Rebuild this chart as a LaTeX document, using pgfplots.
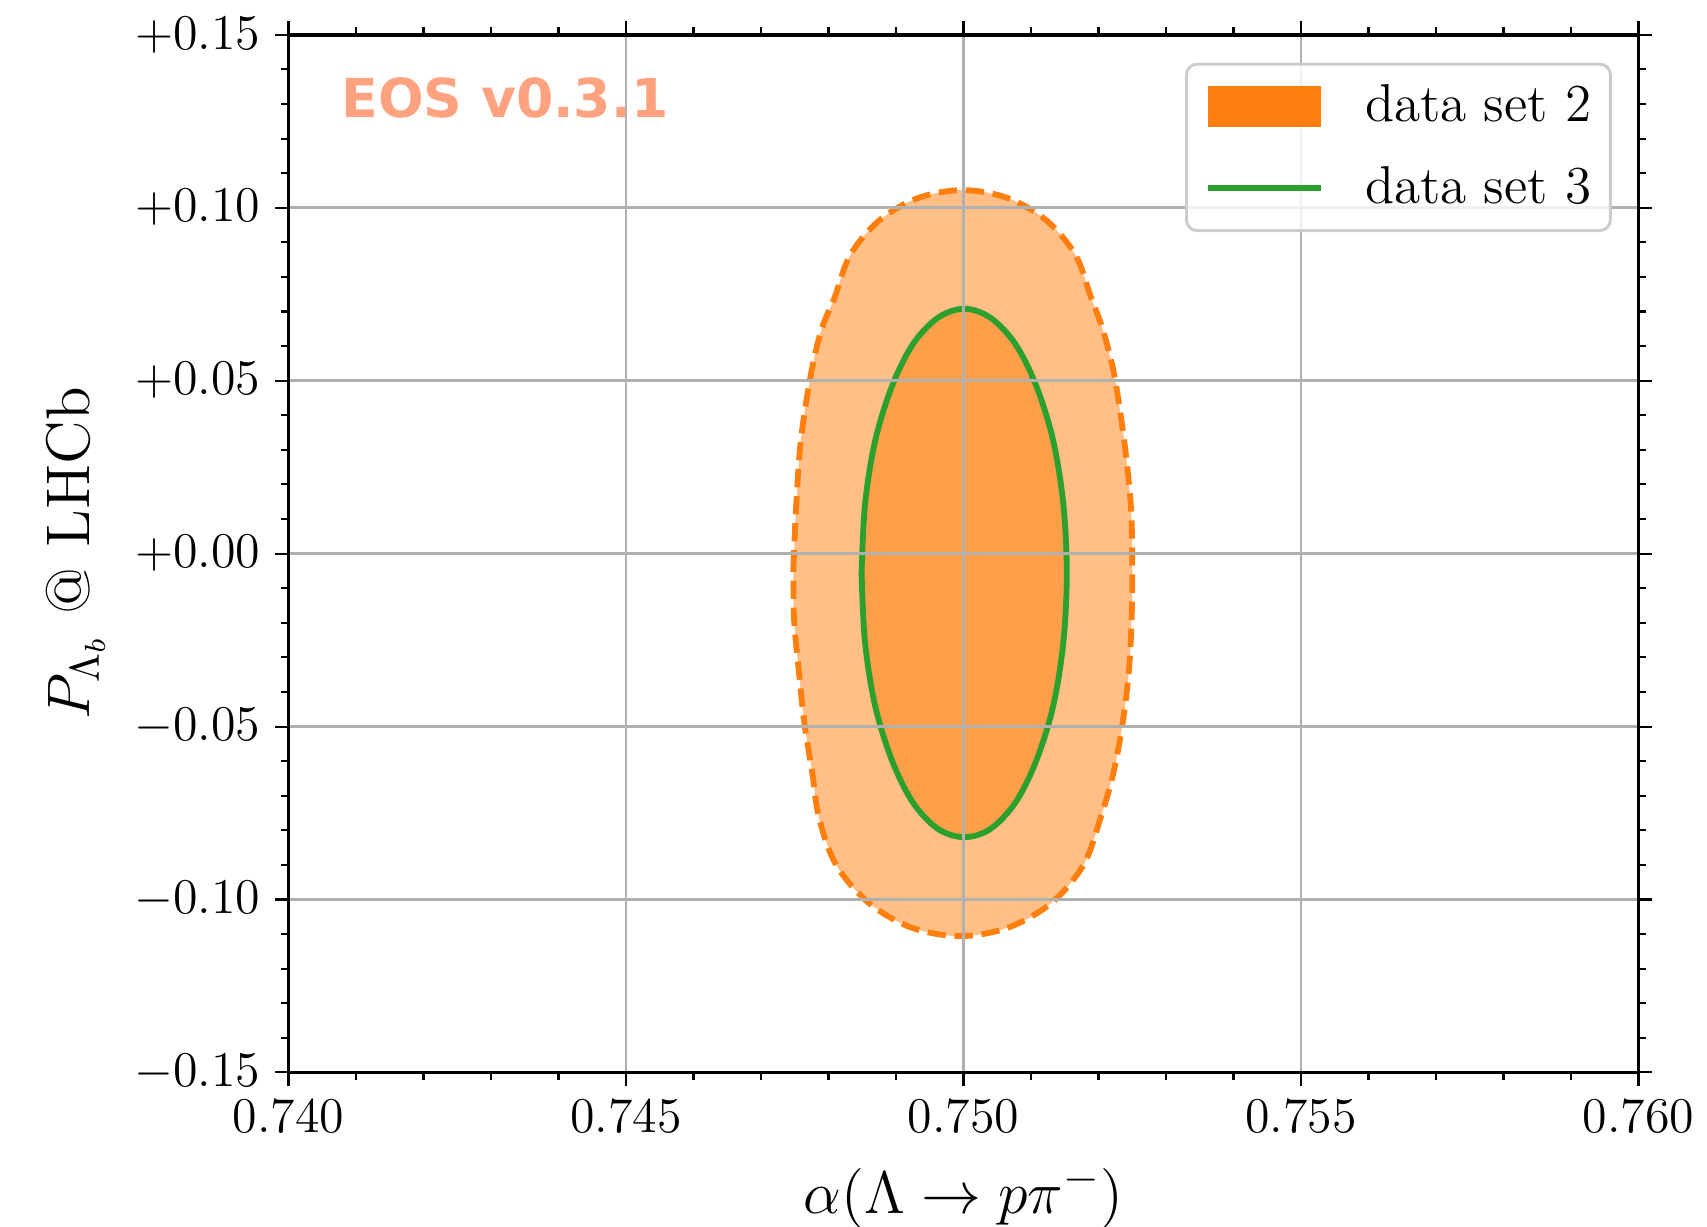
\documentclass[border=0pt]{standalone}
\usepackage{fontspec}
\usepackage{pgfplots}
\pgfplotsset{compat=1.18}
\usepackage{pgfplotstable}
\newfontfamily\dejavu{DejaVu Sans}
\definecolor{C1}{RGB}{255,127,14}
\definecolor{C2}{RGB}{44,160,44}
\definecolor{outerfill}{RGB}{255,191,134}
\definecolor{innerfill}{RGB}{255,159,74}
\definecolor{eos}{RGB}{255,162,128}
\definecolor{gridc}{RGB}{176,176,176}
\definecolor{legframe}{RGB}{204,204,204}

\pgfplotstableread{
x y
0.74748 -0.00429
0.74752 0.01346
0.74759 0.03269
0.74774 0.05192
0.74790 0.06500
0.74809 0.07399
0.74832 0.08627
0.74875 0.09631
0.74933 0.10284
0.74999 0.10510
0.75065 0.10284
0.75123 0.09631
0.75166 0.08627
0.75189 0.07399
0.75206 0.06500
0.75223 0.05192
0.75238 0.03269
0.75248 0.01346
0.75250 -0.00429
0.75249 -0.01908
0.75245 -0.03388
0.75236 -0.04867
0.75222 -0.06346
0.75203 -0.07641
0.75178 -0.08989
0.75131 -0.10088
0.75067 -0.10808
0.74995 -0.11060
0.74922 -0.10808
0.74859 -0.10088
0.74811 -0.08989
0.74786 -0.07641
0.74776 -0.06346
0.74764 -0.04867
0.74756 -0.03388
0.74749 -0.01908
0.74748 -0.00429
}\outercont

\pgfplotstableread{
x y
0.74849 -0.00570
0.74854 0.01410
0.74869 0.03255
0.74894 0.04839
0.74925 0.06055
0.74962 0.06819
0.75001 0.07080
0.75040 0.06819
0.75077 0.06055
0.75108 0.04839
0.75133 0.03255
0.75148 0.01410
0.75153 -0.00570
0.75148 -0.02550
0.75133 -0.04395
0.75108 -0.05979
0.75077 -0.07195
0.75040 -0.07959
0.75001 -0.08200
0.74962 -0.07959
0.74925 -0.07195
0.74894 -0.05979
0.74869 -0.04395
0.74854 -0.02550
0.74849 -0.00570
}\innercont

\begin{document}
\begin{tikzpicture}
\useasboundingbox (-69.3pt,-36.9pt) rectangle (340.7pt,257.58pt);
\begin{axis}[
  scale only axis, width=324.25pt, height=249.22pt,
  xmin=0.740, xmax=0.760, ymin=-0.15, ymax=0.15,
  xtick={0.740,0.745,0.750,0.755,0.760},
  xticklabels={$0.740$,$0.745$,$0.750$,$0.755$,$0.760$},
  ytick={-0.15,-0.10,-0.05,0,0.05,0.10,0.15},
  yticklabels={$-0.15$,$-0.10$,$-0.05$,$+0.00$,$+0.05$,$+0.10$,$+0.15$},
  minor x tick num=4, minor y tick num=4,
  tick align=outside, tick pos=both, xticklabel pos=lower, yticklabel pos=left,
  major tick length=3.2pt, minor tick length=1.8pt,
  tick style={black, line width=0.5pt},
  axis line style={line width=0.85pt},
  grid=major, major grid style={gridc, line width=0.6pt},
  axis on top,
  tick label style={font=\fontsize{12.6}{15}\selectfont},
  xlabel={$\alpha(\Lambda\to p\pi^-)$},
  ylabel={$P_{\Lambda_b}$ @ LHCb},
  xlabel style={font=\fontsize{15}{18}\selectfont, at={(axis description cs:0.5,-0.1356)}, anchor=base},
  ylabel style={font=\fontsize{14.8}{18}\selectfont, at={(axis description cs:-0.1471,0.5)}, anchor=base, rotate=0},
  legend cell align=left,
  legend style={at={(0.9802,0.9731)}, anchor=north east, draw=legframe,
    line width=0.7pt, rounded corners=2.5pt, fill=white, fill opacity=0.8,
    text opacity=1, font=\fontsize{12.8}{15}\selectfont,
    inner xsep=4.5pt, inner ysep=5pt, row sep=9.2pt, column sep=10pt,
    nodes={inner sep=0pt}},
]
\addplot[draw=none, fill=outerfill, smooth, tension=0.55, forget plot] table[x=x,y=y] {\outercont};
\addplot[draw=none, fill=innerfill, smooth, tension=0.55,
  legend image code/.code={\fill[C1, fill opacity=1, sharp corners] (0pt,-4.95pt) rectangle (27pt,4.95pt);}]
  table[x=x,y=y] {\innercont};
\addlegendentry{data set 2}
\addplot[C2, line width=1.4pt, smooth, tension=0.55,
  legend image code/.code={\draw[C2, line width=1.4pt, draw opacity=1, sharp corners] (0pt,0pt) -- (27pt,0pt);}]
  table[x=x,y=y] {\innercont};
\addlegendentry{data set 3}
\addplot[C1, line width=1.4pt, dash pattern=on 4.4pt off 2.1pt, smooth, tension=0.55, forget plot]
  table[x=x,y=y] {\outercont};
\node[anchor=base west, inner sep=0pt, text=eos, font=\dejavu\bfseries\fontsize{12.9}{15}\selectfont]
  at (rel axis cs:0.0386,0.92) {EOS v0.3.1};
\end{axis}
\end{tikzpicture}
\end{document}
